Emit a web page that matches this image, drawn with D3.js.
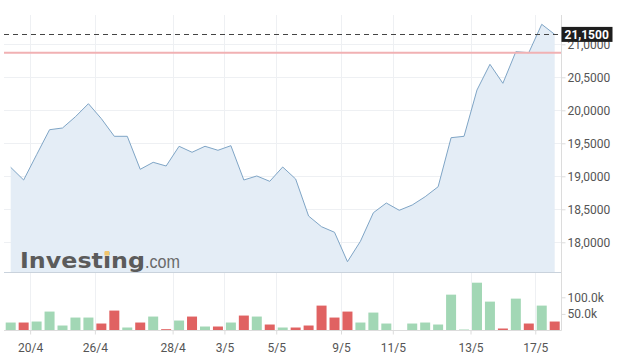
<!DOCTYPE html>
<html>
<head>
<meta charset="utf-8">
<script src="https://cdn.jsdelivr.net/npm/d3@7"></script>
<style>
  body { margin: 0; background: #fff; }
  svg { display: block; font-family: Roboto, "Liberation Sans", sans-serif; }
</style>
</head>
<body>
<div id="chart"></div>
<script>
// prices, one per session (index 0..42)
var prices = [19.136, 18.944, 19.327, 19.706, 19.732, 19.903, 20.100, 19.873, 19.606, 19.606,
  19.106, 19.212, 19.156, 19.455, 19.364, 19.455, 19.394, 19.464, 18.944, 19.005,
  18.924, 19.141, 18.959, 18.398, 18.236, 18.152, 17.706, 18.015, 18.448, 18.595,
  18.485, 18.565, 18.691, 18.842, 19.585, 19.606, 20.308, 20.697, 20.409, 20.888,
  20.873, 21.303, 21.150];
var volumes = [24, 24, 27, 57, 15, 39, 39, 21, 60, 9,
  24, 42, 4, 30, 42, 12, 12, 24, 45, 42,
  18, 9, 9, 15, 75, 39, 57, 24, 54, 21,
  1, 21, 24, 18, 108, 3, 144, 87, 6, 96,
  21, 75, 27].map(function (v) { return v * 1000; });
var tickLabels = ["20/4", "26/4", "28/4", "3/5", "5/5", "9/5", "11/5", "13/5", "17/5"];
var tickIdx = [1.5, 6.5, 12.5, 16.5, 20.5, 25.5, 29.5, 35.5, 40.5];
var priceTicks = [18, 18.5, 19, 19.5, 20, 20.5, 21];
var volTicks = [50000, 100000];
var prevClose = 20.873;
var lastPrice = 21.15;

const width = 624;
const height = 360;
const plotLeft = 4, plotRight = 561.5;

var x = d3.scaleLinear().domain([0, prices.length - 1]).range([10.7, 554.7]);
var y = d3.scaleLinear().domain([17.55, 21.5]).range([272, 11.3]);
var yv = d3.scaleLinear().domain([0, 150000]).range([330.5, 280.7]);

var fmtPrice = function (v) { return d3.format(".4f")(v).replace(".", ","); };

const svg = d3.select("#chart").append("svg")
  .attr("width", width).attr("height", height);

// grid
svg.append("g").attr("class", "hgrid")
  .selectAll("line").data(priceTicks).join("line")
  .attr("x1", plotLeft).attr("x2", plotRight)
  .attr("y1", (d) => Math.round(y(d)) + 0.5).attr("y2", (d) => Math.round(y(d)) + 0.5)
  .attr("stroke", "#eef0f3");
svg.append("g").attr("class", "vgrid")
  .selectAll("line").data(tickIdx).join("line")
  .attr("x1", (d) => Math.round(x(d)) + 0.5).attr("x2", (d) => Math.round(x(d)) + 0.5)
  .attr("y1", 15).attr("y2", 330)
  .attr("stroke", "#eef0f3");

// area + line
var area = d3.area()
  .x((d, i) => x(i))
  .y0(y.range()[0])
  .y1((d) => y(d));
var line = d3.line()
  .x((d, i) => x(i))
  .y((d) => y(d));

svg.append("path").datum(prices)
  .attr("d", area)
  .attr("fill", "#e3ecf5")
  .attr("opacity", 0.95);

// watermark
var wm = svg.append("g").attr("class", "watermark").attr("fill", "#5b5b5b");
var wmText = wm.append("text")
  .attr("x", 20).attr("y", 267.5)
  .attr("font-family", "'DejaVu Sans', sans-serif")
  .attr("font-weight", "bold")
  .attr("font-size", 21)
  .attr("textLength", 125)
  .attr("lengthAdjust", "spacingAndGlyphs")
  .text("Investing");
wm.append("text")
  .attr("x", 145).attr("y", 267.5)
  .attr("font-family", "'Liberation Sans', Arial, sans-serif")
  .attr("font-size", 18)
  .attr("textLength", 35)
  .attr("lengthAdjust", "spacingAndGlyphs")
  .attr("fill", "#6a6a6a")
  .text(".com");
// orange dot on the "i"
var ib = wmText.node().getExtentOfChar(6);
wm.append("rect")
  .attr("x", ib.x + ib.width / 2 - 2.3).attr("y", 251)
  .attr("width", 4.6).attr("height", 4.6)
  .attr("fill", "#f2c66d");

svg.append("path").datum(prices)
  .attr("d", line)
  .attr("fill", "none")
  .attr("stroke", "#7fa5c6")
  .attr("stroke-width", 1);

// previous close + last price
svg.append("line")
  .attr("x1", plotLeft).attr("x2", plotRight)
  .attr("y1", y(prevClose)).attr("y2", y(prevClose))
  .attr("stroke", "#f1b1b3").attr("stroke-width", 2);
svg.append("line")
  .attr("x1", plotLeft).attr("x2", plotRight)
  .attr("y1", Math.round(y(lastPrice)) + 0.5).attr("y2", Math.round(y(lastPrice)) + 0.5)
  .attr("stroke", "#444").attr("stroke-dasharray", "5,4");

// panel borders
svg.append("line").attr("x1", plotLeft).attr("x2", plotRight)
  .attr("y1", 272.5).attr("y2", 272.5).attr("stroke", "#c9d2dc");
svg.append("line").attr("x1", plotRight).attr("x2", plotRight)
  .attr("y1", 15).attr("y2", 330.5).attr("stroke", "#dcdcdc");

// volume bars
svg.append("g").attr("class", "bars")
  .selectAll("rect").data(volumes).join("rect")
  .attr("x", (d, i) => x(i) - 5)
  .attr("width", 10)
  .attr("y", (d) => yv(d))
  .attr("height", (d) => yv(0) - yv(d))
  .attr("fill", (d, i) => (i > 0 && prices[i] < prices[i - 1]) ? "#e06262" : "#a2d7b5");

svg.append("line").attr("x1", plotLeft).attr("x2", plotRight)
  .attr("y1", 330.5).attr("y2", 330.5).attr("stroke", "#dcdcdc");

// price axis
function yAxis(g) {
  g.attr("transform", `translate(${plotRight}, 0)`)
    .call(d3.axisRight(y).tickValues(priceTicks).tickFormat(fmtPrice).tickSize(4).tickPadding(2))
    .call((g) => g.select(".domain").remove());
  g.selectAll(".tick line").attr("stroke", "#dcdcdc");
  g.selectAll("text").attr("fill", "#555").style("font-size", "12px")
    .style("font-family", "Roboto, sans-serif");
}
svg.append("g").attr("class", "yAxis").call(yAxis);

// volume axis
function vAxis(g) {
  g.attr("transform", `translate(${plotRight}, 0)`)
    .call(d3.axisRight(yv).tickValues(volTicks)
      .tickFormat((v) => d3.format(".1f")(v / 1000) + "k").tickSize(4).tickPadding(2))
    .call((g) => g.select(".domain").remove());
  g.selectAll(".tick line").attr("stroke", "#dcdcdc");
  g.selectAll("text").attr("fill", "#555").style("font-size", "12px")
    .style("font-family", "Roboto, sans-serif");
}
svg.append("g").attr("class", "vAxis").call(vAxis);

// x axis
function xAxis(g) {
  g.attr("transform", `translate(0, 330.5)`)
    .call(d3.axisBottom(x).tickValues(tickIdx)
      .tickFormat((d, i) => tickLabels[i]).tickSize(4).tickPadding(9))
    .call((g) => g.select(".domain").remove());
  g.selectAll(".tick line").attr("stroke", "#dcdcdc");
  g.selectAll("text").attr("fill", "#555").style("font-size", "12px")
    .style("font-family", "Roboto, sans-serif");
}
svg.append("g").attr("class", "xAxis").call(xAxis);

// last price label (covers the top of the 21,0000 tick label, as in the source)
var ly = y(lastPrice);
svg.append("rect")
  .attr("x", plotRight).attr("y", ly - 7.5)
  .attr("width", 51).attr("height", 15)
  .attr("fill", "#1e1e1e");
svg.append("text")
  .attr("x", plotRight + 3).attr("y", ly + 4.5)
  .attr("fill", "#fff")
  .attr("font-weight", "bold")
  .attr("font-size", 12)
  .text(fmtPrice(lastPrice));
</script>
</body>
</html>
